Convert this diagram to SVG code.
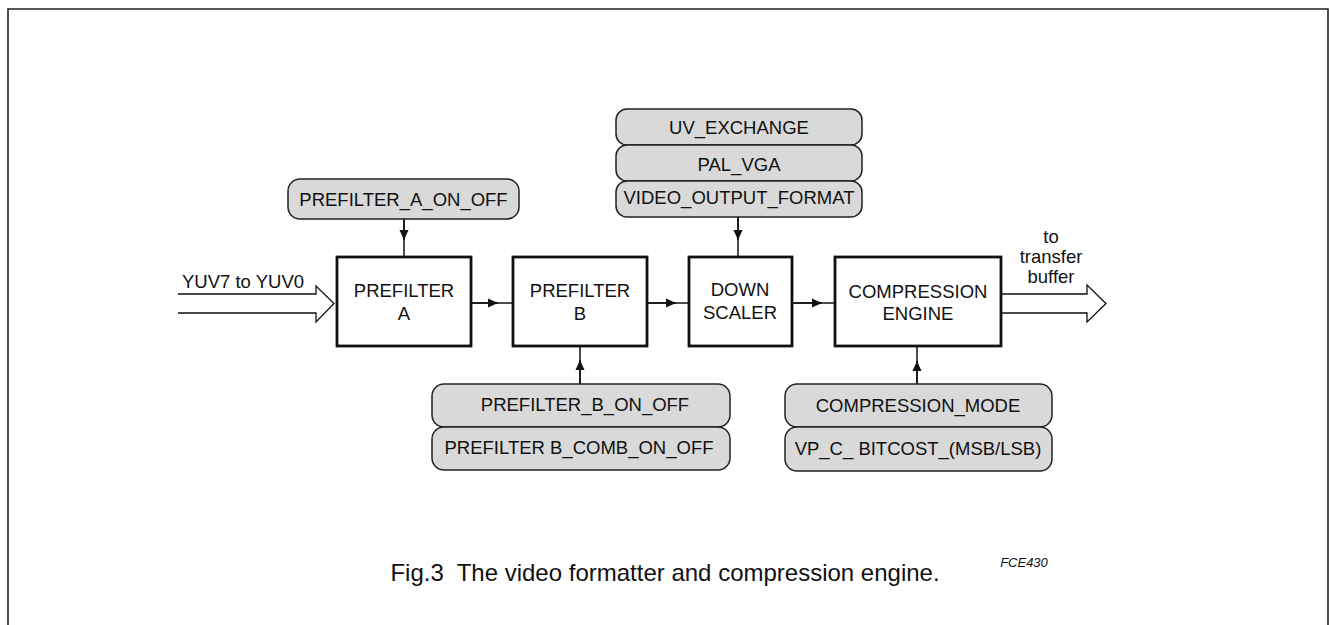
<svg xmlns="http://www.w3.org/2000/svg" width="1329" height="625" viewBox="0 0 1329 625">
<style>
.t{font-family:"Liberation Sans",Arial,sans-serif;font-size:18.5px;fill:#111;text-anchor:middle}
.blk{fill:#fff;stroke:#111;stroke-width:2.8}
.reg{fill:#d9d9d9;stroke:#222;stroke-width:1.5}
.ln{stroke:#111;stroke-width:1.5;fill:none}
.bus{fill:#fff;stroke:#111;stroke-width:1.3}
</style>
<defs>
<marker id="ah" viewBox="0 0 10 10" refX="10" refY="5" markerWidth="10" markerHeight="10" markerUnits="userSpaceOnUse" orient="auto">
<path d="M0,0.5 L10,5 L0,9.5 Z" fill="#111"/>
</marker>
</defs>
<rect width="1329" height="625" fill="#fff"/>
<path d="M8,625 V9 H1328 V625" fill="none" stroke="#222" stroke-width="1.6"/>

<g id="connectors">
<path class="bus" d="M178,294 H316 V286 L334,303.5 L316,322 V313 H178"/>
<path class="bus" d="M1001,294 H1087 V285 L1106,303.5 L1087,322 V313 H1001"/>
<path class="ln" d="M404,219 V257"/><path class="ln" d="M404,219 V240" marker-end="url(#ah)"/>
<path class="ln" d="M738,217 V257"/><path class="ln" d="M738,217 V240" marker-end="url(#ah)"/>
<path class="ln" d="M471,303 H513"/><path class="ln" d="M471,303 H498" marker-end="url(#ah)"/>
<path class="ln" d="M647,303 H689"/><path class="ln" d="M647,303 H676" marker-end="url(#ah)"/>
<path class="ln" d="M792,303 H835"/><path class="ln" d="M792,303 H822" marker-end="url(#ah)"/>
<path class="ln" d="M580,384 V346"/><path class="ln" d="M580,384 V360" marker-end="url(#ah)"/>
<path class="ln" d="M917,384 V346"/><path class="ln" d="M917,384 V361" marker-end="url(#ah)"/>
</g>

<g id="prefilter_a"><rect class="blk" x="337" y="257" width="134" height="89"/>
<text class="t" x="404" y="297">PREFILTER</text><text class="t" x="404" y="320">A</text></g>
<g id="prefilter_b"><rect class="blk" x="513" y="257" width="134" height="89"/>
<text class="t" x="580" y="297">PREFILTER</text><text class="t" x="580" y="320">B</text></g>
<g id="down_scaler"><rect class="blk" x="689" y="257" width="103" height="89"/>
<text class="t" x="740" y="296">DOWN</text><text class="t" x="740" y="319">SCALER</text></g>
<g id="compression_engine"><rect class="blk" x="835" y="257" width="166" height="89"/>
<text class="t" x="918" y="298">COMPRESSION</text><text class="t" x="918" y="320">ENGINE</text></g>

<g id="prefilter_a_on_off"><rect class="reg" x="288" y="179" width="231" height="40" rx="12"/>
<text class="t" x="403.5" y="205.5">PREFILTER_A_ON_OFF</text></g>

<g id="uv_exchange"><rect class="reg" x="616" y="109" width="246" height="36" rx="11"/>
<text class="t" x="739" y="134">UV_EXCHANGE</text></g>
<g id="pal_vga"><rect class="reg" x="616" y="145" width="246" height="36" rx="11"/>
<text class="t" x="739" y="171">PAL_VGA</text></g>
<g id="video_output_format"><rect class="reg" x="616" y="181" width="246" height="36" rx="11"/>
<text class="t" x="739" y="204">VIDEO_OUTPUT_FORMAT</text></g>

<g id="prefilter_b_on_off"><rect class="reg" x="432" y="384" width="298" height="43" rx="12"/>
<text class="t" x="585" y="411">PREFILTER_B_ON_OFF</text></g>
<g id="prefilter_b_comb_on_off"><rect class="reg" x="432" y="427" width="298" height="43" rx="12"/>
<text class="t" x="579" y="454">PREFILTER B_COMB_ON_OFF</text></g>

<g id="compression_mode"><rect class="reg" x="785" y="384" width="267" height="43" rx="12"/>
<text class="t" x="918" y="412">COMPRESSION_MODE</text></g>
<g id="vp_c_bitcost"><rect class="reg" x="785" y="427" width="267" height="44" rx="12"/>
<text class="t" x="918" y="455">VP_C_ BITCOST_(MSB/LSB)</text></g>

<g id="labels">
<text class="t" x="182" y="288" style="text-anchor:start">YUV7 to YUV0</text>
<text class="t" x="1051" y="243">to</text>
<text class="t" x="1051" y="263">transfer</text>
<text class="t" x="1051" y="283">buffer</text>
<text x="1024" y="567" style="font-family:'Liberation Sans',Arial,sans-serif;font-size:13px;font-style:italic;fill:#111;text-anchor:middle">FCE430</text>
<text class="t" x="665" y="581" style="font-size:24px" xml:space="preserve">Fig.3  The video formatter and compression engine.</text>
</g>
</svg>
